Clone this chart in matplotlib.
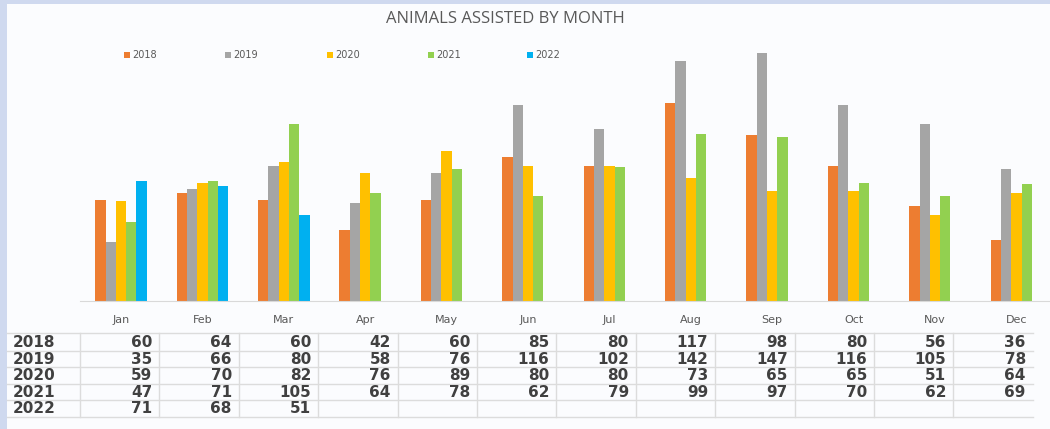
import matplotlib
matplotlib.use("Agg")
import matplotlib.pyplot as plt
from matplotlib.patches import Rectangle
import numpy as np

months = ["Jan", "Feb", "Mar", "Apr", "May", "Jun", "Jul", "Aug", "Sep", "Oct", "Nov", "Dec"]
years = ["2018", "2019", "2020", "2021", "2022"]
v2018 = [60, 64, 60, 42, 60, 85, 80, 117, 98, 80, 56, 36]
v2019 = [35, 66, 80, 58, 76, 116, 102, 142, 147, 116, 105, 78]
v2020 = [59, 70, 82, 76, 89, 80, 80, 73, 65, 65, 51, 64]
v2021 = [47, 71, 105, 64, 78, 62, 79, 99, 97, 70, 62, 69]
v2022 = [71, 68, 51, None, None, None, None, None, None, None, None, None]
series = [v2018, v2019, v2020, v2021, v2022]
colors = ["#ED7D31", "#A5A5A5", "#FFC000", "#92D050", "#00B0F0"]

W, H = 1050, 429
fig = plt.figure(figsize=(W / 100, H / 100), dpi=100)
fig.patch.set_facecolor("#cfd9ef")

# background panel (pixel coordinates overlay)
bg = fig.add_axes([0, 0, 1, 1], zorder=0)
bg.set_xlim(0, W)
bg.set_ylim(H, 0)
bg.axis("off")
bg.add_patch(Rectangle((7, 4), W - 7, H - 4, facecolor="#fbfcfe", edgecolor="none"))


def px(x0, y0, x1, y1):
    return [x0 / W, 1 - y1 / H, (x1 - x0) / W, (y1 - y0) / H]


# main chart axes
cat_w = 81.4
left = 80.3
base = 301
ymax = 150
ppu = 1.69
ax = fig.add_axes(px(left, base - ymax * ppu, left + 12 * cat_w, base), zorder=1)
ax.set_facecolor("none")
x = np.arange(len(months))
bw = 10.3 / cat_w
for j, (vals, c) in enumerate(zip(series, colors)):
    xs = [xi + (j - 2) * bw for xi, v in zip(x, vals) if v is not None]
    ys = [v for v in vals if v is not None]
    ax.bar(xs, ys, width=bw, color=c, linewidth=0)
ax.set_xlim(-0.5, 11.5)
ax.set_ylim(0, ymax)
for s in ["top", "right", "left"]:
    ax.spines[s].set_visible(False)
ax.spines["bottom"].set_color("#d9d9d9")
ax.set_yticks([])
ax.set_xticks(x)
ax.set_xticklabels(months, fontsize=8, color="#595959")
ax.tick_params(axis="x", length=0, pad=10)

# title
fig.text(505 / W, 1 - 19 / H, "ANIMALS ASSISTED BY MONTH", ha="center", va="center",
         fontsize=12, color="#595959", family="Open Sans")

# legend
ov = fig.add_axes([0, 0, 1, 1], zorder=2)
ov.set_xlim(0, W)
ov.set_ylim(H, 0)
ov.axis("off")
leg_x = [127, 228, 330, 431, 530]
for lx, yr, c in zip(leg_x, years, colors):
    ov.add_patch(Rectangle((lx - 3, 52), 6, 6, facecolor=c, edgecolor="none"))
    ov.text(lx + 5, 55, yr, fontsize=7, color="#595959", va="center", ha="left")

# data table
col_edges = [80 + 79.4 * i for i in range(13)]
row_lines = [333, 350.5, 367, 383.5, 400, 416.5]
grid_c = "#dcdcdc"
for yl in row_lines:
    ov.plot([7, 1033], [yl, yl], color=grid_c, lw=1)
for xe in col_edges[:-1]:
    ov.plot([xe, xe], [row_lines[0], row_lines[-1]], color=grid_c, lw=1)
for r, (yr, vals) in enumerate(zip(years, series)):
    yc = (row_lines[r] + row_lines[r + 1]) / 2 + 0.5
    ov.text(13, yc, yr, fontsize=11, fontweight="bold", color="#404040", ha="left", va="center")
    for i, v in enumerate(vals):
        if v is None:
            continue
        ov.text(col_edges[i + 1] - 7, yc, str(v), fontsize=11, fontweight="bold",
                color="#404040", ha="right", va="center")

fig.savefig("out.png", dpi=100, facecolor=fig.get_facecolor())
